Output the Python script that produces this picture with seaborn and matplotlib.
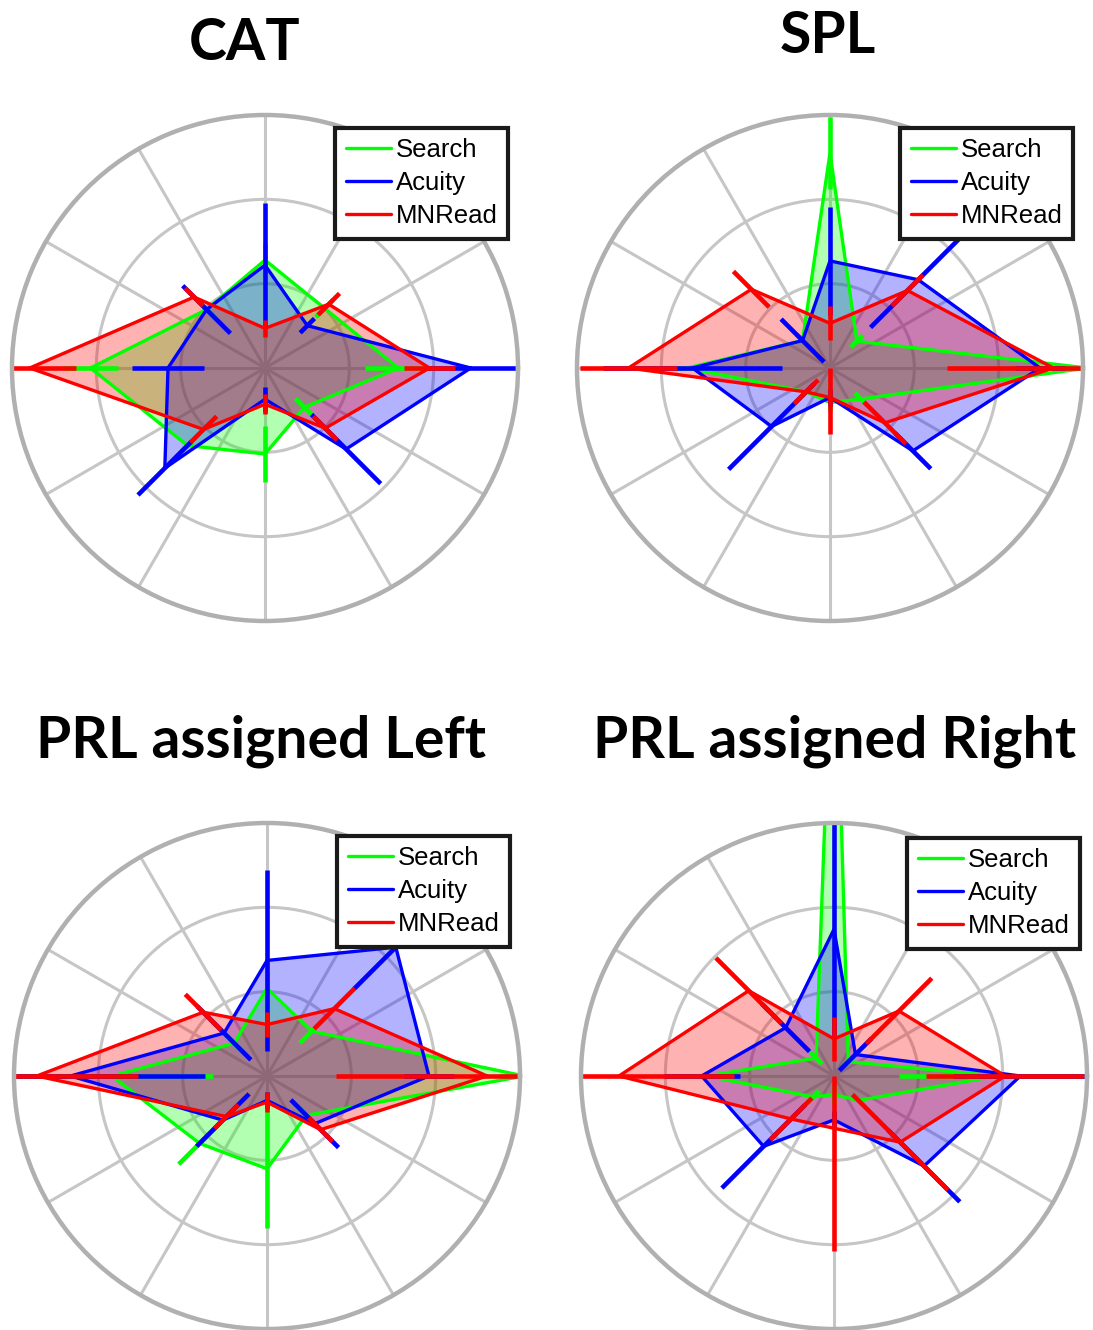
import numpy as np
import pandas as pd
import matplotlib
matplotlib.use("Agg")
import matplotlib.pyplot as plt
from matplotlib.lines import Line2D
import seaborn as sns

# ---------------- data ----------------
angles_deg = [0, 45, 90, 135, 180, 225, 270, 315]
measures = ["Search", "Acuity", "MNRead"]
panel_titles = ["CAT", "SPL", "PRL assigned Left", "PRL assigned Right"]

# CAT
cat_search_mean = [1.58, 1.00, 1.28, 0.98, 2.07, 1.30, 1.02, 0.66]
cat_search_sd = [0.39, 0.15, 0.20, 0.15, 0.33, 0.20, 0.33, 0.15]
cat_acuity_mean = [2.44, 0.71, 1.22, 0.98, 1.15, 1.68, 0.37, 1.36]
cat_acuity_sd = [0.55, 0.12, 0.74, 0.40, 0.43, 0.45, 0.15, 0.58]
cat_mnread_mean = [1.95, 1.07, 0.47, 1.19, 2.79, 1.03, 0.43, 1.01]
cat_mnread_sd = [0.30, 0.18, 0.10, 0.15, 0.55, 0.22, 0.12, 0.20]

# SPL
spl_search_mean = [3.05, 0.45, 2.55, 0.46, 1.69, 0.40, 0.41, 0.52]
spl_search_sd = [0.30, 0.10, 0.43, 0.10, 0.20, 0.10, 0.10, 0.10]
spl_acuity_mean = [2.49, 1.48, 1.27, 0.46, 1.63, 0.98, 0.35, 1.39]
spl_acuity_sd = [0.30, 0.80, 0.64, 0.36, 1.06, 0.72, 0.10, 0.30]
spl_mnread_mean = [2.65, 1.30, 0.53, 1.32, 2.39, 0.40, 0.35, 0.92]
spl_mnread_sd = [1.26, 0.26, 0.20, 0.30, 0.57, 0.20, 0.43, 0.35]

# PRL assigned Left
left_search_mean = [3.05, 0.75, 1.04, 0.55, 1.84, 1.13, 1.10, 0.66]
left_search_sd = [0.30, 0.20, 0.20, 0.15, 1.20, 0.35, 0.70, 0.15]
left_acuity_mean = [1.92, 2.16, 1.37, 0.72, 2.33, 0.74, 0.29, 0.80]
left_acuity_sd = [0.30, 0.70, 1.07, 0.45, 1.60, 0.44, 0.10, 0.40]
left_mnread_mean = [2.61, 1.13, 0.61, 1.07, 2.73, 0.68, 0.31, 0.90]
left_mnread_sd = [1.79, 0.34, 0.15, 0.30, 1.20, 0.20, 0.12, 0.20]

# PRL assigned Right
right_search_mean = [1.93, 0.24, 6.00, 0.30, 1.51, 0.35, 0.22, 0.41]
right_search_sd = [1.16, 0.08, 0.30, 0.10, 0.30, 0.10, 0.10, 0.10]
right_acuity_mean = [2.21, 0.36, 1.74, 0.81, 1.57, 1.18, 0.52, 1.51]
right_acuity_sd = [0.80, 0.27, 1.30, 0.40, 0.45, 0.70, 0.10, 0.60]
right_mnread_mean = [2.03, 1.09, 0.44, 1.43, 2.55, 0.72, 0.62, 1.11]
right_mnread_sd = [0.94, 0.55, 0.26, 0.55, 1.36, 0.35, 1.46, 0.80]

panel_data = [
    [(cat_search_mean, cat_search_sd), (cat_acuity_mean, cat_acuity_sd), (cat_mnread_mean, cat_mnread_sd)],
    [(spl_search_mean, spl_search_sd), (spl_acuity_mean, spl_acuity_sd), (spl_mnread_mean, spl_mnread_sd)],
    [(left_search_mean, left_search_sd), (left_acuity_mean, left_acuity_sd), (left_mnread_mean, left_mnread_sd)],
    [(right_search_mean, right_search_sd), (right_acuity_mean, right_acuity_sd), (right_mnread_mean, right_mnread_sd)],
]

# ---------------- style ----------------
sns.set_theme(style="white")
plt.rcParams["font.family"] = ["Liberation Sans", "DejaVu Sans"]
plt.rcParams["text.color"] = "black"

colors = {"Search": "#00ff00", "Acuity": "#0000ff", "MNRead": "#ff0000"}

W, H = 1093, 1330
fig = plt.figure(figsize=(W / 100, H / 100), dpi=100)

# centres and radius in pixels
centres = [(265, 368), (830, 368), (267, 1076), (834, 1076)]
radius = 253
title_pos = [(245, 60), (828, 53), (261, 758), (835, 758)]
legend_anchor = [(508, 128), (1073, 128), (510, 836), (1080, 838)]

for p, (title, data) in enumerate(zip(panel_titles, panel_data)):
    cx, cy = centres[p]
    rect = [(cx - radius) / W, 1 - (cy + radius) / H, 2 * radius / W, 2 * radius / H]
    ax = fig.add_axes(rect, projection="polar")
    ax.set_facecolor("white")
    ax.set_ylim(0, 3)
    ax.set_thetagrids(np.arange(0, 360, 30), labels=[])
    ax.set_rgrids([1, 2], labels=[])
    ax.grid(True, color="#c6c6c6", lw=2.2)
    ax.spines["polar"].set_color("#b0b0b0")
    ax.spines["polar"].set_linewidth(3.2)
    ax.tick_params(labelleft=False, labelbottom=False, pad=0)

    theta_pts = np.deg2rad(angles_deg)
    theta_closed = np.deg2rad(angles_deg + [360])
    for m, (mean, sd) in zip(measures, data):
        c = colors[m]
        mean = np.asarray(mean, float)
        sd = np.asarray(sd, float)
        r_closed = np.append(mean, mean[0])
        df = pd.DataFrame({"theta": theta_closed, "r": r_closed})
        ax.fill(theta_closed, r_closed, color=c, alpha=0.3, lw=0)
        sns.lineplot(data=df, x="theta", y="r", ax=ax, color=c, lw=2.4,
                     sort=False, estimator=None)
        lo = np.clip(mean - sd, 0, None)
        hi = mean + sd
        ax.vlines(theta_pts, lo, hi, color=c, lw=3.3)
    ax.set_xlabel("")
    ax.set_ylabel("")
    ax.set_ylim(0, 3)

    handles = [Line2D([0], [0], color=colors[m], lw=2.4) for m in measures]
    lx, ly = legend_anchor[p]
    leg = ax.legend(handles, measures, loc="upper right",
                    bbox_to_anchor=(lx / W, 1 - ly / H), bbox_transform=fig.transFigure,
                    fontsize=18.5, frameon=True, fancybox=False, framealpha=1,
                    edgecolor="#1a1a1a", handlelength=1.75, handletextpad=0.2,
                    borderpad=0.4, labelspacing=0.35, borderaxespad=0)
    leg.get_frame().set_linewidth(3)
    for t in leg.get_texts():
        t.set_color("black")

    tx, ty = title_pos[p]
    fig.text(tx / W, 1 - ty / H, title, ha="center", va="baseline", color="black",
             fontsize=41, fontweight="bold", family=["Lato", "DejaVu Sans"])

fig.savefig("out.png", dpi=100, facecolor="white")
